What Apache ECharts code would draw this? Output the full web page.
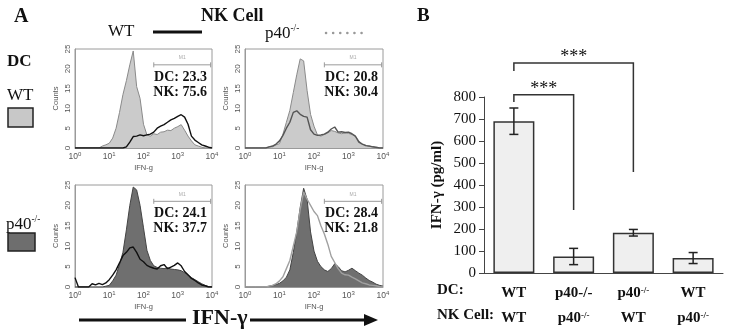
<!DOCTYPE html>
<html>
<head>
<meta charset="utf-8">
<script src="https://cdn.jsdelivr.net/npm/echarts@6/dist/echarts.min.js"></script>
<style>
  html, body { margin: 0; background: #fff; }
  #chart { width: 731px; height: 334px; }
</style>
</head>
<body>
<div id="chart"></div>
<script>
// histogram bins, log10(IFN-g)
const bins = [0.0, 0.1, 0.2, 0.3, 0.4, 0.5, 0.6, 0.7, 0.8, 0.9, 1.0, 1.1, 1.2, 1.3, 1.4, 1.5, 1.6, 1.7, 1.8, 1.9, 2.0,
  2.1, 2.2, 2.3, 2.4, 2.5, 2.6, 2.7, 2.8, 2.9, 3.0, 3.1, 3.2, 3.3, 3.4, 3.5, 3.6, 3.7, 3.8, 3.9, 4.0]

// DC WT + NK WT
const dcWtNkWtFill = [0, 0, 0, 0, 0, 0, 0, 0, 0.5, 0.8, 1.2, 2.5, 5, 9, 13.5, 17, 21, 24.5, 15.5, 12.5, 6,
  3.3, 3, 3.6, 3.4, 4, 4.1, 4.5, 4.4, 5, 5.4, 5.9, 4.5, 3, 1.8, 0.8, 0.5, 0.2, 0, 0, 0]
const dcWtNkWtLine = [0, 0, 0, 0, 0, 0, 0, 0, 0, 0, 0, 0, 0, 0, 0, 0.3, 1.5, 2.9, 3, 3.3, 3.1,
  3.3, 3.5, 4, 5, 5.5, 5.9, 6.5, 7.1, 7.5, 8, 8.4, 7.8, 6, 3, 2, 1.4, 0.8, 0.5, 0.2, 0]
// DC WT + NK p40-/-
const dcWtNkKoFill = [0, 0, 0, 0, 0, 0, 0, 0.3, 0.3, 0.8, 1.1, 3.5, 6.5, 9.5, 14, 18.5, 22.5, 22, 14.5, 8.5, 5.5,
  3.3, 3, 3.4, 3.8, 4.4, 4.2, 3.8, 3.6, 3.8, 3.7, 3.4, 2.9, 1.8, 1, 0.7, 0.4, 0.3, 0.1, 0, 0]
const dcWtNkKoLine = [0, 0, 0, 0, 0, 0, 0, 0.3, 0.5, 1, 1.8, 3.2, 5, 6.5, 9, 9.4, 8.5, 8, 7.8, 4.6, 3.5,
  3.2, 3.3, 3.5, 4, 4.8, 5.3, 4, 4.1, 3.9, 4, 3.6, 3, 1.5, 1, 0.6, 0.5, 0.3, 0.2, 0, 0]
// DC p40-/- + NK WT
const dcKoNkWtFill = [0, 0, 0, 0, 0, 0, 0, 0, 0, 0.2, 0.4, 1.5, 2.9, 5.5, 8.5, 14, 20, 24.5, 23.8, 20, 14.5,
  9, 6.5, 5.2, 4.8, 4.6, 4.5, 4.7, 4.4, 4.3, 4.2, 4, 3.5, 2.9, 2.3, 1.8, 1.3, 0.8, 0.4, 0.1, 0]
const dcKoNkWtLine = [2.3, 0, 0, 0, 0, 0.8, 0.5, 0.9, 0.6, 1, 1.8, 2.9, 4.2, 5.9, 7.7, 8.5, 9.6, 9.8, 8.5, 6.8, 6.2,
  5.3, 4.9, 4.6, 4.4, 5.2, 5.5, 4.5, 4.9, 5.3, 5.9, 5.2, 3.8, 3, 2.1, 1.6, 1, 0.5, 0.3, 0, 0]
// DC p40-/- + NK p40-/-
const dcKoNkKoFill = [0, 0, 0, 0, 0, 0, 0, 0.2, 0.4, 0.6, 0.9, 1.5, 2.4, 4.2, 8.5, 13.5, 19.5, 24.2, 21.5, 13.5, 8.8,
  6.3, 5, 4.2, 3.8, 4.5, 5.7, 5, 4, 3.7, 4.1, 4.6, 4, 3.4, 2.9, 2.2, 1.6, 1.2, 0.7, 0.4, 0.2]
const dcKoNkKoLine = [0, 0, 0, 0, 0, 0, 0, 0.2, 0.4, 0.8, 1.5, 2.5, 4.5, 6.5, 10, 13.5, 19, 23.3, 21.5, 20, 18.5,
  17.5, 15, 13, 10.5, 7.5, 6, 4.5, 3.4, 3, 2.9, 2.4, 2, 1.5, 1, 0.8, 0.5, 0.4, 0.3, 0.1, 0]

const histTicks = [0, 1, 2, 3, 4]
const countTicks = [0, 5, 10, 15, 20, 25]
const gateRange = [2.3, 3.96]
const gateLevel = 21
const statDC = ['23.3', '20.8', '24.1', '28.4']
const statNK = ['75.6', '30.4', '37.7', '21.8']

// panel B
const dcGroups = ['WT', 'p40-/-', 'p40^-/-', 'WT']
const nkGroups = ['WT', 'p40^-/-', 'WT', 'p40^-/-']
const ifngMean = [690, 75, 183, 68]
const ifngErr = [60, 37, 15, 25]
const ifngTicks = [0, 100, 200, 300, 400, 500, 600, 700, 800]
// [from, to, bracket top, left leg end, right leg end]
const sigPairs = [[0, 1, 810, 777, 286], [0, 2, 955, 918, 459]]
const sigLabels = ['***', '***']

const serif = '"Liberation Serif", "Times New Roman", serif'
const sans = '"Liberation Sans", Arial, sans-serif'

const histGrids = [
  { left: 75, top: 49, width: 137, height: 99 },
  { left: 245, top: 49, width: 138, height: 99 },
  { left: 75, top: 185, width: 137, height: 102 },
  { left: 245, top: 185, width: 138, height: 102 },
]
const histFills = [dcWtNkWtFill, dcWtNkKoFill, dcKoNkWtFill, dcKoNkKoFill]
const histLines = [dcWtNkWtLine, dcWtNkKoLine, dcKoNkWtLine, dcKoNkKoLine]
const fillColors = ['#cbcbcb', '#cbcbcb', '#6f6f6f', '#6f6f6f']
const fillEdges = ['#8a8a8a', '#8a8a8a', '#444', '#444']
const lineColors = ['#111', '#555', '#111', '#a0a0a0']

const richLabel = (s) => s.indexOf('^') >= 0
  ? '{b|' + s.split('^')[0] + '}{s|' + s.split('^')[1] + '}'
  : '{b|' + s + '}'

const grids = histGrids.map((g) => ({ ...g, show: true, borderColor: '#9a9a9a', borderWidth: 1 }))
grids.push({ left: 484, right: 8, top: 97, bottom: 61 })

const xAxes = histGrids.map((g, i) => ({
  type: 'value', gridIndex: i, min: histTicks[0], max: histTicks[histTicks.length - 1], interval: 1,
  name: 'IFN-g', nameLocation: 'middle', nameGap: 16,
  nameTextStyle: { fontFamily: sans, fontSize: 7.5, color: '#555' },
  axisLine: { lineStyle: { color: '#9a9a9a' } },
  axisTick: { show: false },
  splitLine: { show: false },
  axisLabel: {
    margin: 3,
    formatter: (v) => '{b|10}{s|' + v + '}',
    rich: {
      b: { fontFamily: sans, fontSize: 8.5, color: '#555', lineHeight: 11 },
      s: { fontFamily: sans, fontSize: 6, color: '#555', lineHeight: 6, verticalAlign: 'top' },
    },
  },
}))
xAxes.push({
  type: 'category', gridIndex: 4, data: dcGroups,
  axisLine: { lineStyle: { color: '#444', width: 1 } },
  axisTick: { length: 5, lineStyle: { color: '#444' } },
  axisLabel: {
    interval: 0, margin: 8,
    formatter: (v, i) => richLabel(dcGroups[i]) + '\n' + richLabel(nkGroups[i]),
    rich: {
      b: { fontFamily: serif, fontWeight: 'bold', fontSize: 15, color: '#111', lineHeight: 25 },
      s: { fontFamily: serif, fontWeight: 'bold', fontSize: 9, color: '#111', lineHeight: 9, verticalAlign: 'top', padding: [5, 0, 0, 0] },
    },
  },
})

const yAxes = histGrids.map((g, i) => ({
  type: 'value', gridIndex: i, min: countTicks[0], max: countTicks[countTicks.length - 1], interval: 5,
  name: 'Counts', nameLocation: 'middle', nameGap: 15, nameRotate: 90,
  nameTextStyle: { fontFamily: sans, fontSize: 7.5, color: '#555' },
  axisLine: { show: true, lineStyle: { color: '#9a9a9a' } },
  axisTick: { show: false },
  splitLine: { show: false },
  axisLabel: { rotate: 90, margin: 3, fontFamily: sans, fontSize: 8, color: '#555' },
}))
yAxes.push({
  type: 'value', gridIndex: 4, min: ifngTicks[0], max: ifngTicks[ifngTicks.length - 1], interval: 100,
  name: 'IFN-γ (pg/ml)', nameLocation: 'middle', nameGap: 39, nameRotate: 90,
  nameTextStyle: { fontFamily: serif, fontWeight: 'bold', fontSize: 15, color: '#111' },
  axisLine: { show: true, lineStyle: { color: '#444' } },
  axisTick: { show: true, length: 5, lineStyle: { color: '#444' } },
  splitLine: { show: false },
  axisLabel: { margin: 8, fontFamily: serif, fontSize: 15, color: '#111' },
})

const series = []
histGrids.forEach((g, i) => {
  series.push({
    type: 'line', xAxisIndex: i, yAxisIndex: i, symbol: 'none', silent: true,
    data: bins.map((b, k) => [b, histFills[i][k]]),
    lineStyle: { color: fillEdges[i], width: 1 },
    areaStyle: { color: fillColors[i], opacity: 1 },
  })
  series.push({
    type: 'line', xAxisIndex: i, yAxisIndex: i, symbol: 'none', silent: true,
    data: bins.map((b, k) => [b, histLines[i][k]]),
    lineStyle: { color: lineColors[i], width: 1.4 },
  })
  series.push({
    type: 'custom', xAxisIndex: i, yAxisIndex: i, silent: true,
    data: [[gateRange[0], gateRange[1], gateLevel]],
    renderItem: (params, api) => {
      const a = api.coord([api.value(0), api.value(2)])
      const b = api.coord([api.value(1), api.value(2)])
      const st = { stroke: '#9a9a9a', lineWidth: 1 }
      return {
        type: 'group',
        children: [
          { type: 'line', shape: { x1: a[0], y1: a[1], x2: b[0], y2: b[1] }, style: st },
          { type: 'line', shape: { x1: a[0], y1: a[1] - 2.5, x2: a[0], y2: a[1] + 2.5 }, style: st },
          { type: 'line', shape: { x1: b[0], y1: b[1] - 2.5, x2: b[0], y2: b[1] + 2.5 }, style: st },
          { type: 'text', x: (a[0] + b[0]) / 2, y: a[1] - 7, style: { text: 'M1', font: '5px ' + sans, fill: '#aaa', align: 'center', verticalAlign: 'middle' } },
        ],
      }
    },
  })
})

series.push({
  type: 'bar', xAxisIndex: 4, yAxisIndex: 4, barWidth: 41, silent: true,
  data: ifngMean,
  itemStyle: { color: '#efefef', borderColor: '#333', borderWidth: 1.5 },
})
series.push({
  type: 'custom', xAxisIndex: 4, yAxisIndex: 4, silent: true, z: 5,
  data: ifngMean.map((v, i) => [i, v - ifngErr[i], v + ifngErr[i]]),
  renderItem: (params, api) => {
    const lo = api.coord([api.value(0), api.value(1)])
    const hi = api.coord([api.value(0), api.value(2)])
    const st = { stroke: '#222', lineWidth: 1.5 }
    return {
      type: 'group',
      children: [
        { type: 'line', shape: { x1: hi[0], y1: hi[1], x2: lo[0], y2: lo[1] }, style: st },
        { type: 'line', shape: { x1: hi[0] - 4.5, y1: hi[1], x2: hi[0] + 4.5, y2: hi[1] }, style: st },
        { type: 'line', shape: { x1: lo[0] - 4.5, y1: lo[1], x2: lo[0] + 4.5, y2: lo[1] }, style: st },
      ],
    }
  },
})
series.push({
  type: 'custom', xAxisIndex: 4, yAxisIndex: 4, silent: true, clip: false, z: 5,
  data: sigPairs,
  renderItem: (params, api) => {
    const tl = api.coord([api.value(0), api.value(2)])
    const tr = api.coord([api.value(1), api.value(2)])
    const bl = api.coord([api.value(0), api.value(3)])
    const br = api.coord([api.value(1), api.value(4)])
    return {
      type: 'group',
      children: [
        { type: 'polyline', shape: { points: [bl, tl, tr, br] }, style: { stroke: '#333', lineWidth: 1.5, fill: null } },
        { type: 'text', x: (tl[0] + tr[0]) / 2, y: tl[1] + 3, style: { text: sigLabels[params.dataIndex], font: '18px ' + serif, fill: '#111', align: 'center', verticalAlign: 'bottom' } },
      ],
    }
  },
})

const supRich = (size) => ({
  a: { fontFamily: serif, fontSize: size, fill: '#111', lineHeight: size + 2 },
  s: { fontFamily: serif, fontSize: size * 0.55, fill: '#111', lineHeight: size * 0.55, verticalAlign: 'top' },
})

const graphic = [
  { type: 'text', left: 14, top: 7, style: { text: 'A', font: 'bold 20px ' + serif, fill: '#111' } },
  { type: 'text', left: 417, top: 7, style: { text: 'B', font: 'bold 19px ' + serif, fill: '#111' } },
  { type: 'text', left: 201, top: 7, style: { text: 'NK Cell', font: 'bold 18px ' + serif, fill: '#111' } },
  { type: 'text', left: 108, top: 23, style: { text: 'WT', font: '17px ' + serif, fill: '#111' } },
  { type: 'line', shape: { x1: 153, y1: 32, x2: 202, y2: 32 }, style: { stroke: '#111', lineWidth: 3 } },
  { type: 'text', left: 265, top: 24, style: { text: '{a|p40}{s|-/-}', rich: supRich(17) } },
  { type: 'line', shape: { x1: 326, y1: 33, x2: 368, y2: 33 }, style: { stroke: '#999', lineWidth: 2.5, lineDash: [0.1, 7], lineCap: 'round' } },
  { type: 'text', left: 7, top: 53, style: { text: 'DC', font: 'bold 17px ' + serif, fill: '#111' } },
  { type: 'text', left: 7, top: 87, style: { text: 'WT', font: '17px ' + serif, fill: '#111' } },
  { type: 'rect', shape: { x: 8, y: 108, width: 25, height: 19 }, style: { fill: '#c8c8c8', stroke: '#222', lineWidth: 1.5 } },
  { type: 'text', left: 6, top: 215, style: { text: '{a|p40}{s|-/-}', rich: supRich(17) } },
  { type: 'rect', shape: { x: 8, y: 233, width: 27, height: 18 }, style: { fill: '#6e6e6e', stroke: '#222', lineWidth: 1.5 } },
  { type: 'line', shape: { x1: 79, y1: 320, x2: 186, y2: 320 }, style: { stroke: '#111', lineWidth: 3 } },
  { type: 'text', left: 192, top: 307, style: { text: 'IFN-γ', font: 'bold 22px ' + serif, fill: '#111' } },
  { type: 'line', shape: { x1: 250, y1: 320, x2: 368, y2: 320 }, style: { stroke: '#111', lineWidth: 3 } },
  { type: 'polygon', shape: { points: [[364, 314], [378, 320], [364, 326]] }, style: { fill: '#111' } },
  { type: 'text', left: 437, top: 283, style: { text: 'DC:', font: 'bold 15px ' + serif, fill: '#111' } },
  { type: 'text', left: 437, top: 308, style: { text: 'NK Cell:', font: 'bold 15px ' + serif, fill: '#111' } },
]

histGrids.forEach((g, i) => {
  const right = g.left + g.width - 5
  graphic.push({ type: 'text', x: right, y: g.top + 28, style: { text: 'DC: ' + statDC[i], font: 'bold 14px ' + serif, fill: '#111', align: 'right', verticalAlign: 'middle' } })
  graphic.push({ type: 'text', x: right, y: g.top + 43, style: { text: 'NK: ' + statNK[i], font: 'bold 14px ' + serif, fill: '#111', align: 'right', verticalAlign: 'middle' } })
})

const chart = echarts.init(document.getElementById('chart'))
chart.setOption({
  animation: false,
  grid: grids,
  xAxis: xAxes,
  yAxis: yAxes,
  series,
  graphic,
})
</script>
</body>
</html>
